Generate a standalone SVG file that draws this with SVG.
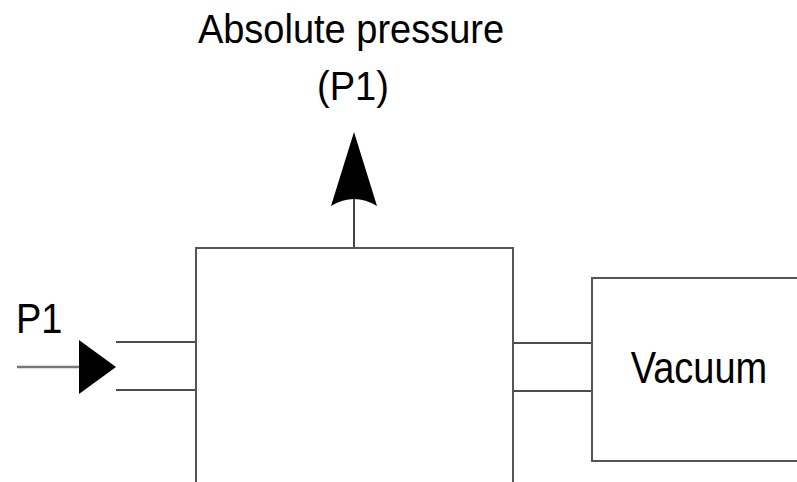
<svg xmlns="http://www.w3.org/2000/svg" width="797" height="482" viewBox="0 0 797 482">
<style>
.box{fill:#fff;stroke:#555;stroke-width:2}
.tube{stroke:#111;stroke-width:1.6;fill:none}
.lbl{font-family:"Liberation Sans",Arial,sans-serif;font-size:38px;fill:#000}
</style>
<rect width="797" height="482" fill="#fff"/>
<g id="connectors">
<line class="tube" x1="116" y1="342" x2="196" y2="342"/>
<line class="tube" x1="116" y1="390" x2="196" y2="390"/>
<line class="tube" x1="513" y1="343" x2="592" y2="343"/>
<line class="tube" x1="513" y1="391" x2="592" y2="391"/>
<line x1="17" y1="367" x2="82" y2="367" stroke="#777" stroke-width="2.5"/>
<polygon points="79,340 116,367 79,394" fill="#000"/>
<line x1="354" y1="248" x2="354" y2="198" stroke="#444" stroke-width="2"/>
<path d="M354,132 L377,206 Q354,192 331,206 Z" fill="#000"/>
</g>
<g id="sensor">
<rect class="box" x="196" y="248" width="317" height="260"/>
</g>
<g id="vacuum">
<rect class="box" x="592" y="278" width="220" height="183"/>
<text class="lbl" x="699" y="383" text-anchor="middle" transform="translate(0,383) scale(1,1.15) translate(0,-383)">Vacuum</text>
</g>
<g id="labels">
<text class="lbl" x="351" y="43" text-anchor="middle" transform="translate(0,43) scale(1,1.05) translate(0,-43)">Absolute pressure</text>
<text class="lbl" x="353" y="100" text-anchor="middle" transform="translate(0,100) scale(1,1.05) translate(0,-100)">(P1)</text>
<text class="lbl" x="16" y="333" transform="translate(0,333) scale(1,1.1) translate(0,-333)">P1</text>
</g>
</svg>
